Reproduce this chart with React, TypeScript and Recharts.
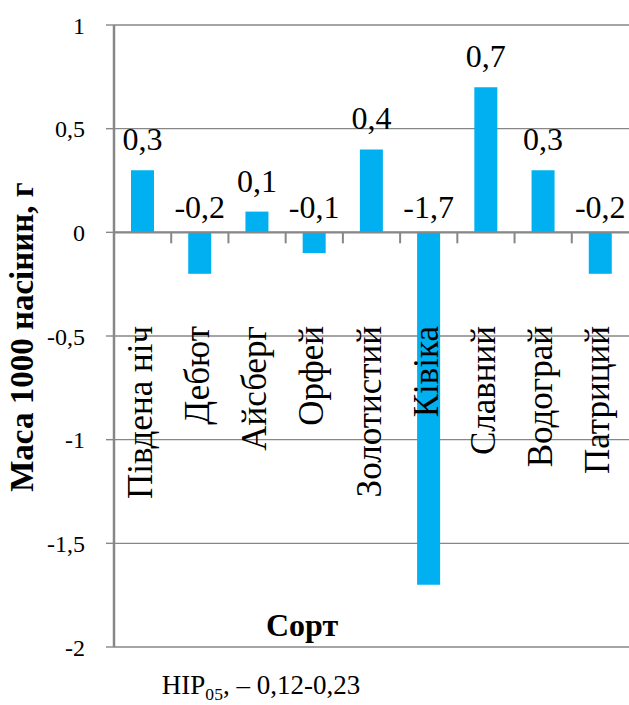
import { BarChart, Bar, XAxis, YAxis, CartesianGrid, ReferenceLine, LabelList } from 'recharts'

const CATEGORIES = [
  'Південа ніч', 'Дебют', 'Айсберг', 'Орфей', 'Золотистий',
  'Ківіка', 'Славний', 'Водограй', 'Патриций',
]
const VALUES = [0.3, -0.2, 0.1, -0.1, 0.4, -1.7, 0.7, 0.3, -0.2]
const Y_TICKS = [-2, -1.5, -1, -0.5, 0, 0.5, 1]

const W = 629
const H = 705
const X_AXIS_H = 30
const M = { top: 25, right: 0, bottom: 58 - X_AXIS_H, left: 0 }
const Y_AXIS_W = 114
const PLOT_W = W - Y_AXIS_W - M.left - M.right
const PLOT_H = H - M.top - M.bottom - X_AXIS_H
const Y_MIN = Y_TICKS[0]
const Y_MAX = Y_TICKS[Y_TICKS.length - 1]
const ZERO_Y = M.top + (Y_MAX / (Y_MAX - Y_MIN)) * PLOT_H
const BAND = PLOT_W / CATEGORIES.length

const GRID = '#878787'
const FONT = 'Liberation Serif, Times New Roman, serif'

const data = CATEGORIES.map((name, i) => ({ name, value: VALUES[i] }))

const fmt = (v: number) => String(v).replace('.', ',')

function CategoryTick(props: any) {
  const { x, payload, index } = props
  const endY = 326
  return (
    <g>
      {index > 0 && (
        <line x1={x - BAND / 2} x2={x - BAND / 2} y1={ZERO_Y} y2={ZERO_Y + 11} stroke={GRID} strokeWidth={2} />
      )}
      <text
        x={x}
        y={endY}
        dy={9}
        transform={`rotate(-90, ${x}, ${endY})`}
        textAnchor="end"
        fontSize={35}
        fontFamily={FONT}
        fill="#000"
      >
        {payload.value}
      </text>
    </g>
  )
}

function ValueLabel(props: any) {
  const { x, y, width, height, value } = props
  const top = Math.min(y, y + height)
  const ly = value >= 0 ? top - 20 : top - 14
  return (
    <text x={x + width / 2} y={ly} textAnchor="middle" fontSize={32} fontFamily={FONT} fill="#000">
      {fmt(value)}
    </text>
  )
}

export default function App() {
  return (
    <div style={{ position: 'relative', width: W, height: H, fontFamily: FONT, background: '#fff' }}>
      <style>{'body{margin:0}'}</style>
      <BarChart width={W} height={H} data={data} margin={M} barCategoryGap="0%">
        <CartesianGrid vertical={false} stroke={GRID} strokeWidth={1.4} />
        <YAxis
          type="number"
          domain={[Y_MIN, Y_MAX]}
          ticks={Y_TICKS}
          interval={0}
          width={Y_AXIS_W}
          tickFormatter={fmt}
          axisLine={{ stroke: GRID, strokeWidth: 2.5 }}
          tickLine={{ stroke: GRID, strokeWidth: 1.4 }}
          tickSize={8}
          tickMargin={21}
          tick={{ fontSize: 24, fill: '#000', fontFamily: FONT }}
        />
        <XAxis
          dataKey="name"
          height={X_AXIS_H}
          axisLine={false}
          tickLine={false}
          interval={0}
          tick={(p: any) => <CategoryTick {...p} />}
        />
        <ReferenceLine y={0} stroke={GRID} strokeWidth={2.2} />
        <Bar dataKey="value" fill="#00B0F0" barSize={23} isAnimationActive={false}>
          <LabelList dataKey="value" content={(p: any) => <ValueLabel {...p} />} />
        </Bar>
      </BarChart>
      <div
        style={{
          position: 'absolute', left: 22, top: 337, transform: 'translate(-50%, -50%) rotate(-90deg)',
          whiteSpace: 'nowrap', fontWeight: 'bold', fontSize: 33, lineHeight: 1,
        }}
      >
        Маса 1000 насінин, г
      </div>
      <div
        style={{
          position: 'absolute', left: 302, top: 625, transform: 'translate(-50%, -50%)',
          whiteSpace: 'nowrap', fontWeight: 'bold', fontSize: 32, lineHeight: 1,
        }}
      >
        Сорт
      </div>
      <div
        style={{
          position: 'absolute', left: 261, top: 688, transform: 'translate(-50%, -50%)',
          whiteSpace: 'nowrap', fontSize: 27, lineHeight: 1,
        }}
      >
        НІР<sub style={{ fontSize: '0.65em' }}>05</sub>, – 0,12-0,23
      </div>
    </div>
  )
}
